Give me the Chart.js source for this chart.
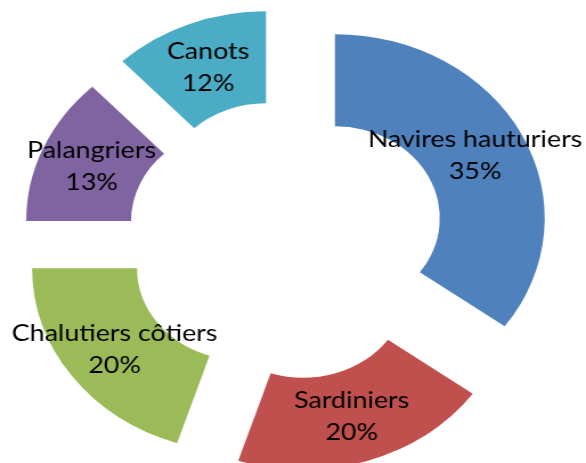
<!DOCTYPE html>
<html>
<head>
<meta charset="utf-8">
<script src="https://cdn.jsdelivr.net/npm/chart.js@4/dist/chart.umd.min.js"></script>
<style>
  html, body { margin: 0; padding: 0; background: #ffffff; overflow: hidden; }
  #c { display: block; }
</style>
</head>
<body>
<canvas id="c" width="514" height="463" style="width:586px;height:463px;"></canvas>
<script>
// ---- data ----
const categories = ['Navires hauturiers', 'Sardiniers', 'Chalutiers côtiers', 'Palangriers', 'Canots'];
const shares = [35, 20, 20, 13, 12];
const colors = ['#4F81BD', '#C0504D', '#9BBB59', '#8064A2', '#4BACC6'];

// ---- styling constants ----
const EXPLODE = 48;       // distance each slice is pulled out
const LABEL_FONT = '23.5px Lato, "Open Sans", sans-serif';
const LINE_GAP = 16;

// Pull every arc outward along its mid angle
const explodePlugin = {
  id: 'explode',
  afterUpdate(chart) {
    chart.getDatasetMeta(0).data.forEach(el => {
      const mid = (el.startAngle + el.endAngle) / 2;
      el.x += Math.cos(mid) * EXPLODE;
      el.y += Math.sin(mid) * EXPLODE;
    });
  }
};

// Category name + percentage centred in each ring slice
const labelPlugin = {
  id: 'sliceLabels',
  afterDatasetsDraw(chart) {
    const ctx = chart.ctx;
    const meta = chart.getDatasetMeta(0);
    const data = chart.data.datasets[0].data;
    const total = data.reduce((a, b) => a + b, 0);
    ctx.save();
    ctx.font = LABEL_FONT;
    ctx.fillStyle = '#000000';
    ctx.textAlign = 'center';
    ctx.textBaseline = 'middle';
    meta.data.forEach((el, i) => {
      const mid = (el.startAngle + el.endAngle) / 2;
      const r = (el.innerRadius + el.outerRadius) / 2;
      const x = el.x + Math.cos(mid) * r;
      const y = el.y + Math.sin(mid) * r;
      const pct = Math.round(data[i] / total * 100) + '%';
      ctx.fillText(chart.data.labels[i], x, y - LINE_GAP);
      ctx.fillText(pct, x, y + LINE_GAP);
    });
    ctx.restore();
  }
};

new Chart(document.getElementById('c'), {
  type: 'doughnut',
  data: {
    labels: categories,
    datasets: [{
      data: shares,
      backgroundColor: colors,
      borderWidth: 0,
      hoverOffset: 0,
      clip: false
    }]
  },
  options: {
    responsive: false,
    animation: false,
    radius: 184,
    cutout: '50%',
    layout: { padding: { left: 0, right: 12, top: 17, bottom: 0 } },
    plugins: {
      legend: { display: false },
      tooltip: { enabled: false }
    },
    events: []
  },
  plugins: [explodePlugin, labelPlugin]
});
</script>
</body>
</html>
